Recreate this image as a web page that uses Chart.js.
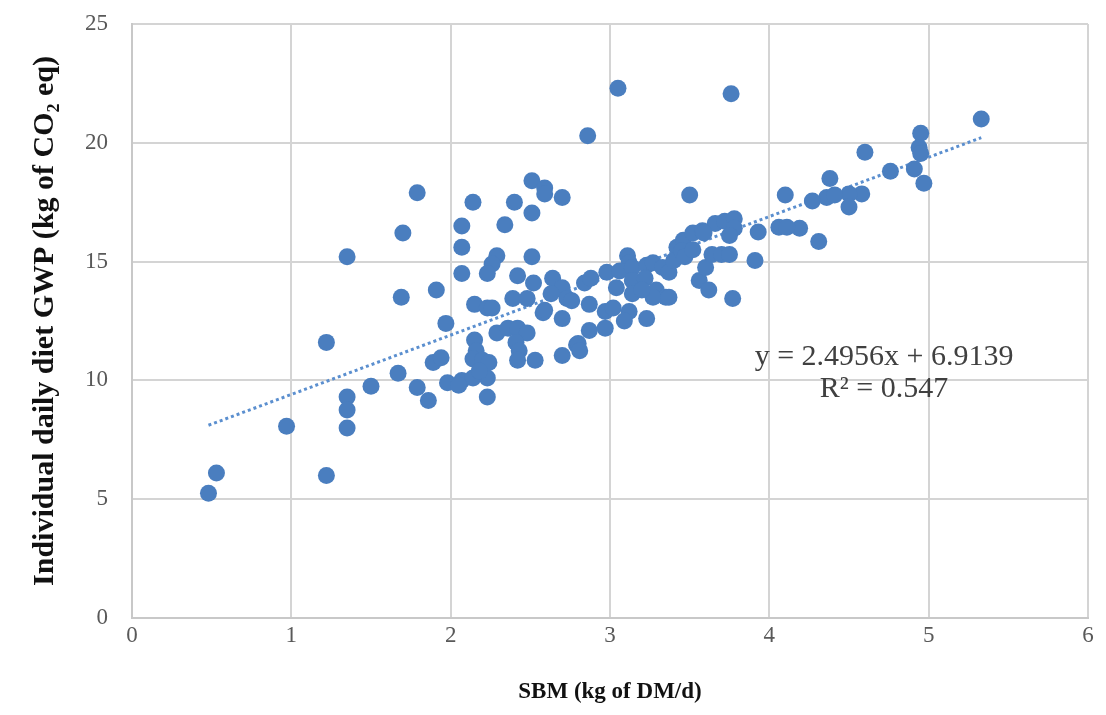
<!DOCTYPE html>
<html>
<head>
<meta charset="utf-8">
<script src="https://cdn.jsdelivr.net/npm/chart.js@4/dist/chart.umd.min.js"></script>
<style>
  html, body { margin: 0; padding: 0; background: #fff; }
  #wrap { width: 1106px; height: 715px; }
</style>
</head>
<body>
<div id="wrap"><canvas id="chart"></canvas></div>
<script>
// SBM (kg of DM/d) per individual
const sbm = [
  0.48, 0.53, 0.97, 1.22, 1.22, 1.35, 1.35, 1.35, 1.35, 1.50,
  1.67, 1.70, 1.79, 1.69, 1.91, 1.79, 1.86, 1.89, 1.94, 1.97,
  1.98, 2.07, 2.14, 2.23, 2.23, 2.14, 2.07, 2.07, 2.07, 2.40,
  2.51, 2.59, 2.59, 2.70, 2.51, 2.34, 2.29, 2.26, 2.23, 2.51,
  2.42, 2.52, 2.64, 2.70, 2.63, 2.73, 2.15, 2.23, 2.26, 2.39,
  2.48, 2.58, 2.70, 2.29, 2.36, 2.42, 2.48, 2.15, 2.16, 2.41,
  2.43, 2.79, 2.70, 2.14, 2.20, 2.24, 2.42, 2.53, 3.05, 2.86,
  3.76, 3.50, 3.11, 3.12, 2.98, 2.84, 2.88, 2.87, 2.97, 3.02,
  3.12, 3.09, 3.23, 2.87, 2.97, 2.80, 2.81, 3.06, 3.14, 3.23,
  3.27, 3.33, 3.37, 3.14, 3.22, 3.29, 3.35, 3.04, 3.14, 3.27,
  3.42, 3.46, 3.52, 3.58, 3.66, 3.72, 3.56, 3.60, 3.64, 3.62,
  3.77, 3.70, 3.75, 2.76, 2.59, 4.95, 4.94, 4.95, 4.91, 4.97,
  4.60, 4.76, 4.38, 4.58, 4.50, 4.50, 4.36, 4.41, 4.27, 4.10,
  4.19, 4.06, 4.11, 4.31, 3.93, 3.91, 3.78, 3.78, 3.75, 3.59,
  5.33, 3.40, 3.45, 3.20, 3.37, 3.47, 3.52, 2.05, 2.18
];
// Individual daily diet GWP (kg of CO2 eq)
const gwp = [
  5.25, 6.10, 8.07, 6.00, 11.60, 15.20, 9.30, 8.75, 8.00, 9.75,
  10.30, 16.20, 17.90, 13.50, 13.80, 9.70, 9.15, 10.75, 10.95, 12.40,
  9.90, 10.00, 10.10, 10.10, 9.30, 17.50, 16.50, 15.60, 14.50, 17.50,
  18.40, 18.10, 17.85, 17.70, 17.05, 16.55, 15.25, 14.90, 14.50, 15.20,
  14.40, 14.10, 14.30, 13.90, 13.65, 13.45, 13.20, 13.05, 13.05, 13.45,
  13.45, 12.85, 12.60, 12.00, 12.20, 12.20, 12.00, 11.70, 11.25, 11.60,
  11.25, 11.50, 11.05, 10.90, 10.85, 10.75, 10.85, 10.85, 22.30, 20.30,
  22.06, 17.80, 15.25, 14.95, 14.55, 14.10, 14.30, 13.20, 12.90, 13.05,
  12.90, 12.50, 12.60, 12.10, 12.20, 11.55, 11.25, 14.60, 14.75, 14.85,
  14.95, 14.75, 14.55, 14.20, 14.30, 13.80, 13.50, 13.90, 13.65, 13.50,
  15.60, 15.90, 16.20, 16.30, 16.60, 16.70, 14.20, 14.75, 15.30, 13.80,
  13.45, 15.30, 15.30, 13.35, 12.95, 20.40, 19.80, 19.55, 18.90, 18.30,
  19.60, 18.80, 18.50, 17.85, 17.85, 17.30, 17.70, 17.80, 17.55, 17.80,
  16.40, 16.45, 16.45, 15.85, 16.25, 15.05, 16.80, 16.40, 16.10, 16.20,
  21.00, 15.05, 15.45, 13.80, 13.50, 15.20, 15.50, 9.80, 10.40
];

const xTicks = [0, 1, 2, 3, 4, 5, 6];
const yTicks = [0, 5, 10, 15, 20, 25];

const slope = 2.4956;
const intercept = 6.9139;
const r2 = 0.547;

const points = sbm.map((x, i) => ({ x: x, y: gwp[i] }));
const xMin = Math.min(...sbm);
const xMax = Math.max(...sbm);
const trend = [xMin, xMax].map(x => ({ x: x, y: slope * x + intercept }));

const serif = "'Liberation Serif', 'Times New Roman', serif";

// trendline equation, placed in data units
const equationLabel = {
  id: 'equationLabel',
  afterDatasetsDraw(chart) {
    const { ctx, scales } = chart;
    const cx = scales.x.getPixelForValue(4.72);
    ctx.save();
    ctx.fillStyle = '#404040';
    ctx.font = "30px " + serif;
    ctx.textAlign = 'center';
    ctx.textBaseline = 'middle';
    ctx.fillText('y = ' + slope + 'x + ' + intercept, cx, scales.y.getPixelForValue(11.0));
    ctx.fillText('R² = ' + r2, cx, scales.y.getPixelForValue(9.65));
    ctx.restore();
  }
};

new Chart(document.getElementById('chart'), {
  type: 'scatter',
  data: {
    datasets: [
      {
        label: 'GWP',
        data: points,
        backgroundColor: '#4a7ebf',
        borderWidth: 0,
        pointRadius: 8.5,
        pointHoverRadius: 8.5
      },
      {
        label: 'Linear',
        type: 'line',
        data: trend,
        borderColor: '#5b8fcf',
        borderWidth: 3,
        borderDash: [3, 3],
        pointRadius: 0,
        fill: false
      }
    ]
  },
  options: {
    responsive: true,
    maintainAspectRatio: false,
    animation: false,
    layout: { padding: { top: 24, right: 18, left: 0, bottom: 0 } },
    plugins: {
      legend: { display: false },
      tooltip: { enabled: false }
    },
    scales: {
      x: {
        type: 'linear',
        min: 0,
        max: 6,
        afterBuildTicks: (scale) => { scale.ticks = xTicks.map(v => ({ value: v })); },
        afterFit: (scale) => { scale.height = 97; scale.paddingLeft = 0; scale.paddingRight = 0; },
        grid: { color: '#d4d4d4', lineWidth: 2, drawTicks: false },
        border: { display: true, color: '#c8c8c8', width: 2 },
        ticks: { color: '#595959', font: { family: serif, size: 23 }, padding: 4 },
        title: {
          display: true,
          text: 'SBM (kg of DM/d)',
          color: '#111',
          font: { family: serif, size: 23, weight: 'bold' },
          padding: { top: 0, bottom: 9 }
        }
      },
      y: {
        type: 'linear',
        min: 0,
        max: 25,
        afterBuildTicks: (scale) => { scale.ticks = yTicks.map(v => ({ value: v })); },
        afterFit: (scale) => { scale.width = 132; scale.paddingTop = 0; scale.paddingBottom = 0; },
        grid: { color: '#d4d4d4', lineWidth: 2, drawTicks: false },
        border: { display: true, color: '#c8c8c8', width: 2 },
        ticks: { color: '#595959', font: { family: serif, size: 23 }, padding: 24 },
        title: {
          display: true,
          text: 'Individual daily diet GWP (kg of CO₂ eq)',
          color: '#111',
          font: { family: serif, size: 30, weight: 'bold' },
          padding: { top: 27, bottom: 0 }
        }
      }
    }
  },
  plugins: [equationLabel]
});
</script>
</body>
</html>
